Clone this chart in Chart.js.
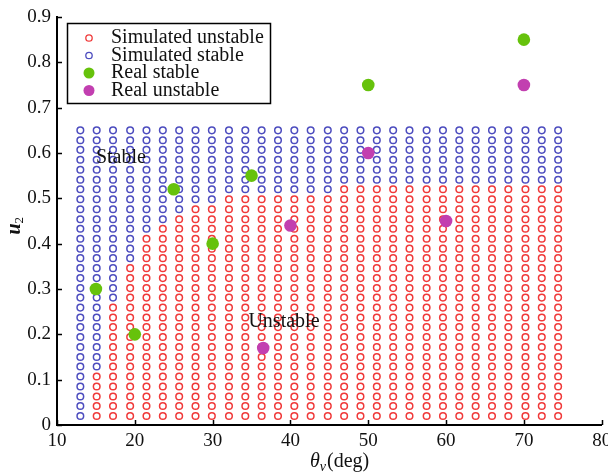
<!DOCTYPE html>
<html>
<head>
<meta charset="utf-8">
<script src="https://cdn.jsdelivr.net/npm/chart.js@4.4.0/dist/chart.umd.min.js"></script>
<style>
    html, body { margin: 0; padding: 0; background: #fff; }
</style>
</head>
<body>
<canvas id="stabilityMap" width="608" height="475"></canvas>
<script>
// simulated grid: column positions (deg) and row positions (u2)
var thetaCols = [13.0, 15.1, 17.2, 19.4, 21.5, 23.6, 25.7, 27.8, 29.9, 32.1,
                 34.2, 36.3, 38.4, 40.5, 42.6, 44.8, 46.9, 49.0, 51.1, 53.2,
                 55.3, 57.5, 59.6, 61.7, 63.8, 65.9, 68.0, 70.2, 72.3, 74.4];
var u2Rows = [0.020, 0.042, 0.063, 0.085, 0.107, 0.129, 0.150, 0.172, 0.194, 0.216,
              0.237, 0.259, 0.281, 0.302, 0.324, 0.346, 0.368, 0.389, 0.411, 0.433,
              0.454, 0.476, 0.498, 0.520, 0.541, 0.563, 0.585, 0.607, 0.628, 0.650];
// how many rows (from the bottom) are unstable in each column
var unstableCount = [0, 5, 12, 16, 19, 20, 21, 22, 22, 23,
                     23, 23, 23, 23, 23, 23, 24, 24, 24, 24,
                     24, 24, 24, 24, 24, 24, 24, 24, 24, 24];

var realStableTheta = [15, 20, 25, 30, 35, 50, 70];
var realStableU2 = [0.30, 0.20, 0.52, 0.40, 0.55, 0.75, 0.85];
var realUnstableTheta = [36.5, 40, 50, 60, 70];
var realUnstableU2 = [0.17, 0.44, 0.60, 0.45, 0.75];

var xTicks = [10, 20, 30, 40, 50, 60, 70, 80];
var yTicks = [0, 0.1, 0.2, 0.3, 0.4, 0.5, 0.6, 0.7, 0.8, 0.9];

var seriesNames = ["Simulated unstable", "Simulated stable", "Real stable", "Real unstable"];

var RED = "#f03a3a";
var BLUE = "#4d4dbf";
var GREEN = "#66c20c";
var MAGENTA = "#c23fb0";
var SERIF = "'Liberation Serif', 'Times New Roman', serif";

var simUnstable = [];
var simStable = [];
for (var c = 0; c < thetaCols.length; c++) {
    for (var r = 0; r < u2Rows.length; r++) {
        var pt = {x: thetaCols[c], y: u2Rows[r]};
        if (r < unstableCount[c]) simUnstable.push(pt);
        else simStable.push(pt);
    }
}

function pairUp(xs, ys) {
    return xs.map(function (v, i) { return {x: v, y: ys[i]}; });
}

var extras = {
    id: "extras",
    afterDraw: function (chart) {
        var ctx = chart.ctx;
        var xs = chart.scales.x;
        var ys = chart.scales.y;
        var area = chart.chartArea;

        ctx.save();
        // inward tick marks
        ctx.strokeStyle = "#000";
        ctx.lineWidth = 1.5;
        ctx.beginPath();
        xTicks.forEach(function (v) {
            var px = Math.round(xs.getPixelForValue(v)) + 0.5;
            ctx.moveTo(px, area.bottom);
            ctx.lineTo(px, area.bottom - 5);
        });
        yTicks.forEach(function (v) {
            var py = Math.round(ys.getPixelForValue(v)) + 0.5;
            ctx.moveTo(area.left, py);
            ctx.lineTo(area.left + 5, py);
        });
        ctx.stroke();

        // region labels
        ctx.fillStyle = "#111";
        ctx.font = "20px " + SERIF;
        ctx.textBaseline = "middle";
        ctx.textAlign = "left";
        ctx.fillText("Stable", xs.getPixelForValue(15.0), ys.getPixelForValue(0.59));
        ctx.fillText("Unstable", xs.getPixelForValue(34.6), ys.getPixelForValue(0.228));

        // legend box
        ctx.lineWidth = 1.5;
        ctx.strokeStyle = "#000";
        ctx.fillStyle = "#fff";
        ctx.fillRect(67, 23, 203, 80);
        ctx.strokeRect(67.5, 23.5, 203, 80);
        var rowsY = [38, 55.5, 73, 90.5];
        var colors = [RED, BLUE, GREEN, MAGENTA];
        seriesNames.forEach(function (name, i) {
            ctx.beginPath();
            if (i < 2) {
                ctx.arc(89, rowsY[i], 3.2, 0, Math.PI * 2);
                ctx.strokeStyle = colors[i];
                ctx.lineWidth = 1.3;
                ctx.stroke();
            } else {
                ctx.arc(89, rowsY[i], 5.5, 0, Math.PI * 2);
                ctx.fillStyle = colors[i];
                ctx.fill();
            }
            ctx.fillStyle = "#111";
            ctx.font = "20px " + SERIF;
            ctx.fillText(name, 111, rowsY[i]);
        });

        // x axis title: theta_v (deg)
        var tx = 310, ty = 462;
        ctx.font = "italic 20px " + SERIF;
        ctx.fillText("\u03b8", tx, ty);
        tx += ctx.measureText("\u03b8").width;
        ctx.font = "italic 14px " + SERIF;
        ctx.fillText("v", tx, ty + 5);
        tx += ctx.measureText("v").width + 1;
        ctx.font = "20px " + SERIF;
        ctx.fillText("(deg)", tx, ty);

        // y axis title: u_2
        ctx.translate(15, 226);
        ctx.rotate(-Math.PI / 2);
        ctx.font = "italic bold 20px " + SERIF;
        ctx.textAlign = "left";
        var uw = ctx.measureText("u").width;
        ctx.fillText("u", -(uw + 6) / 2, 0);
        ctx.font = "13px " + SERIF;
        ctx.fillText("2", -(uw + 6) / 2 + uw, 5);
        ctx.restore();
    }
};

var ctx = document.getElementById("stabilityMap").getContext("2d");

var data = {
    datasets: [
        {
            label: seriesNames[2],
            data: pairUp(realStableTheta, realStableU2),
            pointRadius: 6.3,
            pointBackgroundColor: GREEN,
            pointBorderWidth: 0
        },
        {
            label: seriesNames[3],
            data: pairUp(realUnstableTheta, realUnstableU2),
            pointRadius: 6.3,
            pointBackgroundColor: MAGENTA,
            pointBorderWidth: 0
        },
        {
            label: seriesNames[0],
            data: simUnstable,
            pointRadius: 3.3,
            pointBackgroundColor: "rgba(0,0,0,0)",
            pointBorderColor: RED,
            pointBorderWidth: 1.5
        },
        {
            label: seriesNames[1],
            data: simStable,
            pointRadius: 3.3,
            pointBackgroundColor: "rgba(0,0,0,0)",
            pointBorderColor: BLUE,
            pointBorderWidth: 1.5
        }
    ]
};

var options = {
    responsive: false,
    animation: false,
    devicePixelRatio: 1,
    layout: { padding: { top: 17, right: 3, left: 0, bottom: 0 } },
    plugins: {
        legend: { display: false },
        tooltip: { enabled: false },
        title: { display: false }
    },
    scales: {
        x: {
            type: "linear",
            min: 10,
            max: 80,
            afterBuildTicks: function (scale) {
                scale.ticks = xTicks.map(function (v) { return {value: v}; });
            },
            ticks: { font: { family: SERIF, size: 19 }, color: "#111", padding: 5 },
            grid: { display: false, drawTicks: false },
            border: { display: true, color: "#000", width: 2 },
            afterFit: function (scale) {
                scale.height = 50;
                scale.paddingLeft = 0;
                scale.paddingRight = 0;
            }
        },
        y: {
            type: "linear",
            min: 0,
            max: 0.9,
            afterBuildTicks: function (scale) {
                scale.ticks = yTicks.map(function (v) { return {value: v}; });
            },
            ticks: {
                font: { family: SERIF, size: 19 },
                color: "#111",
                padding: 6,
                callback: function (v) { return v === 0 ? "0" : v.toFixed(1); }
            },
            grid: { display: false, drawTicks: false },
            border: { display: true, color: "#000", width: 2 },
            afterFit: function (scale) {
                scale.width = 57;
                scale.paddingTop = 0;
                scale.paddingBottom = 0;
            }
        }
    }
};

var stabilityChart = new Chart(ctx, {
    type: "scatter",
    data: data,
    options: options,
    plugins: [extras]
});
</script>
</body>
</html>
